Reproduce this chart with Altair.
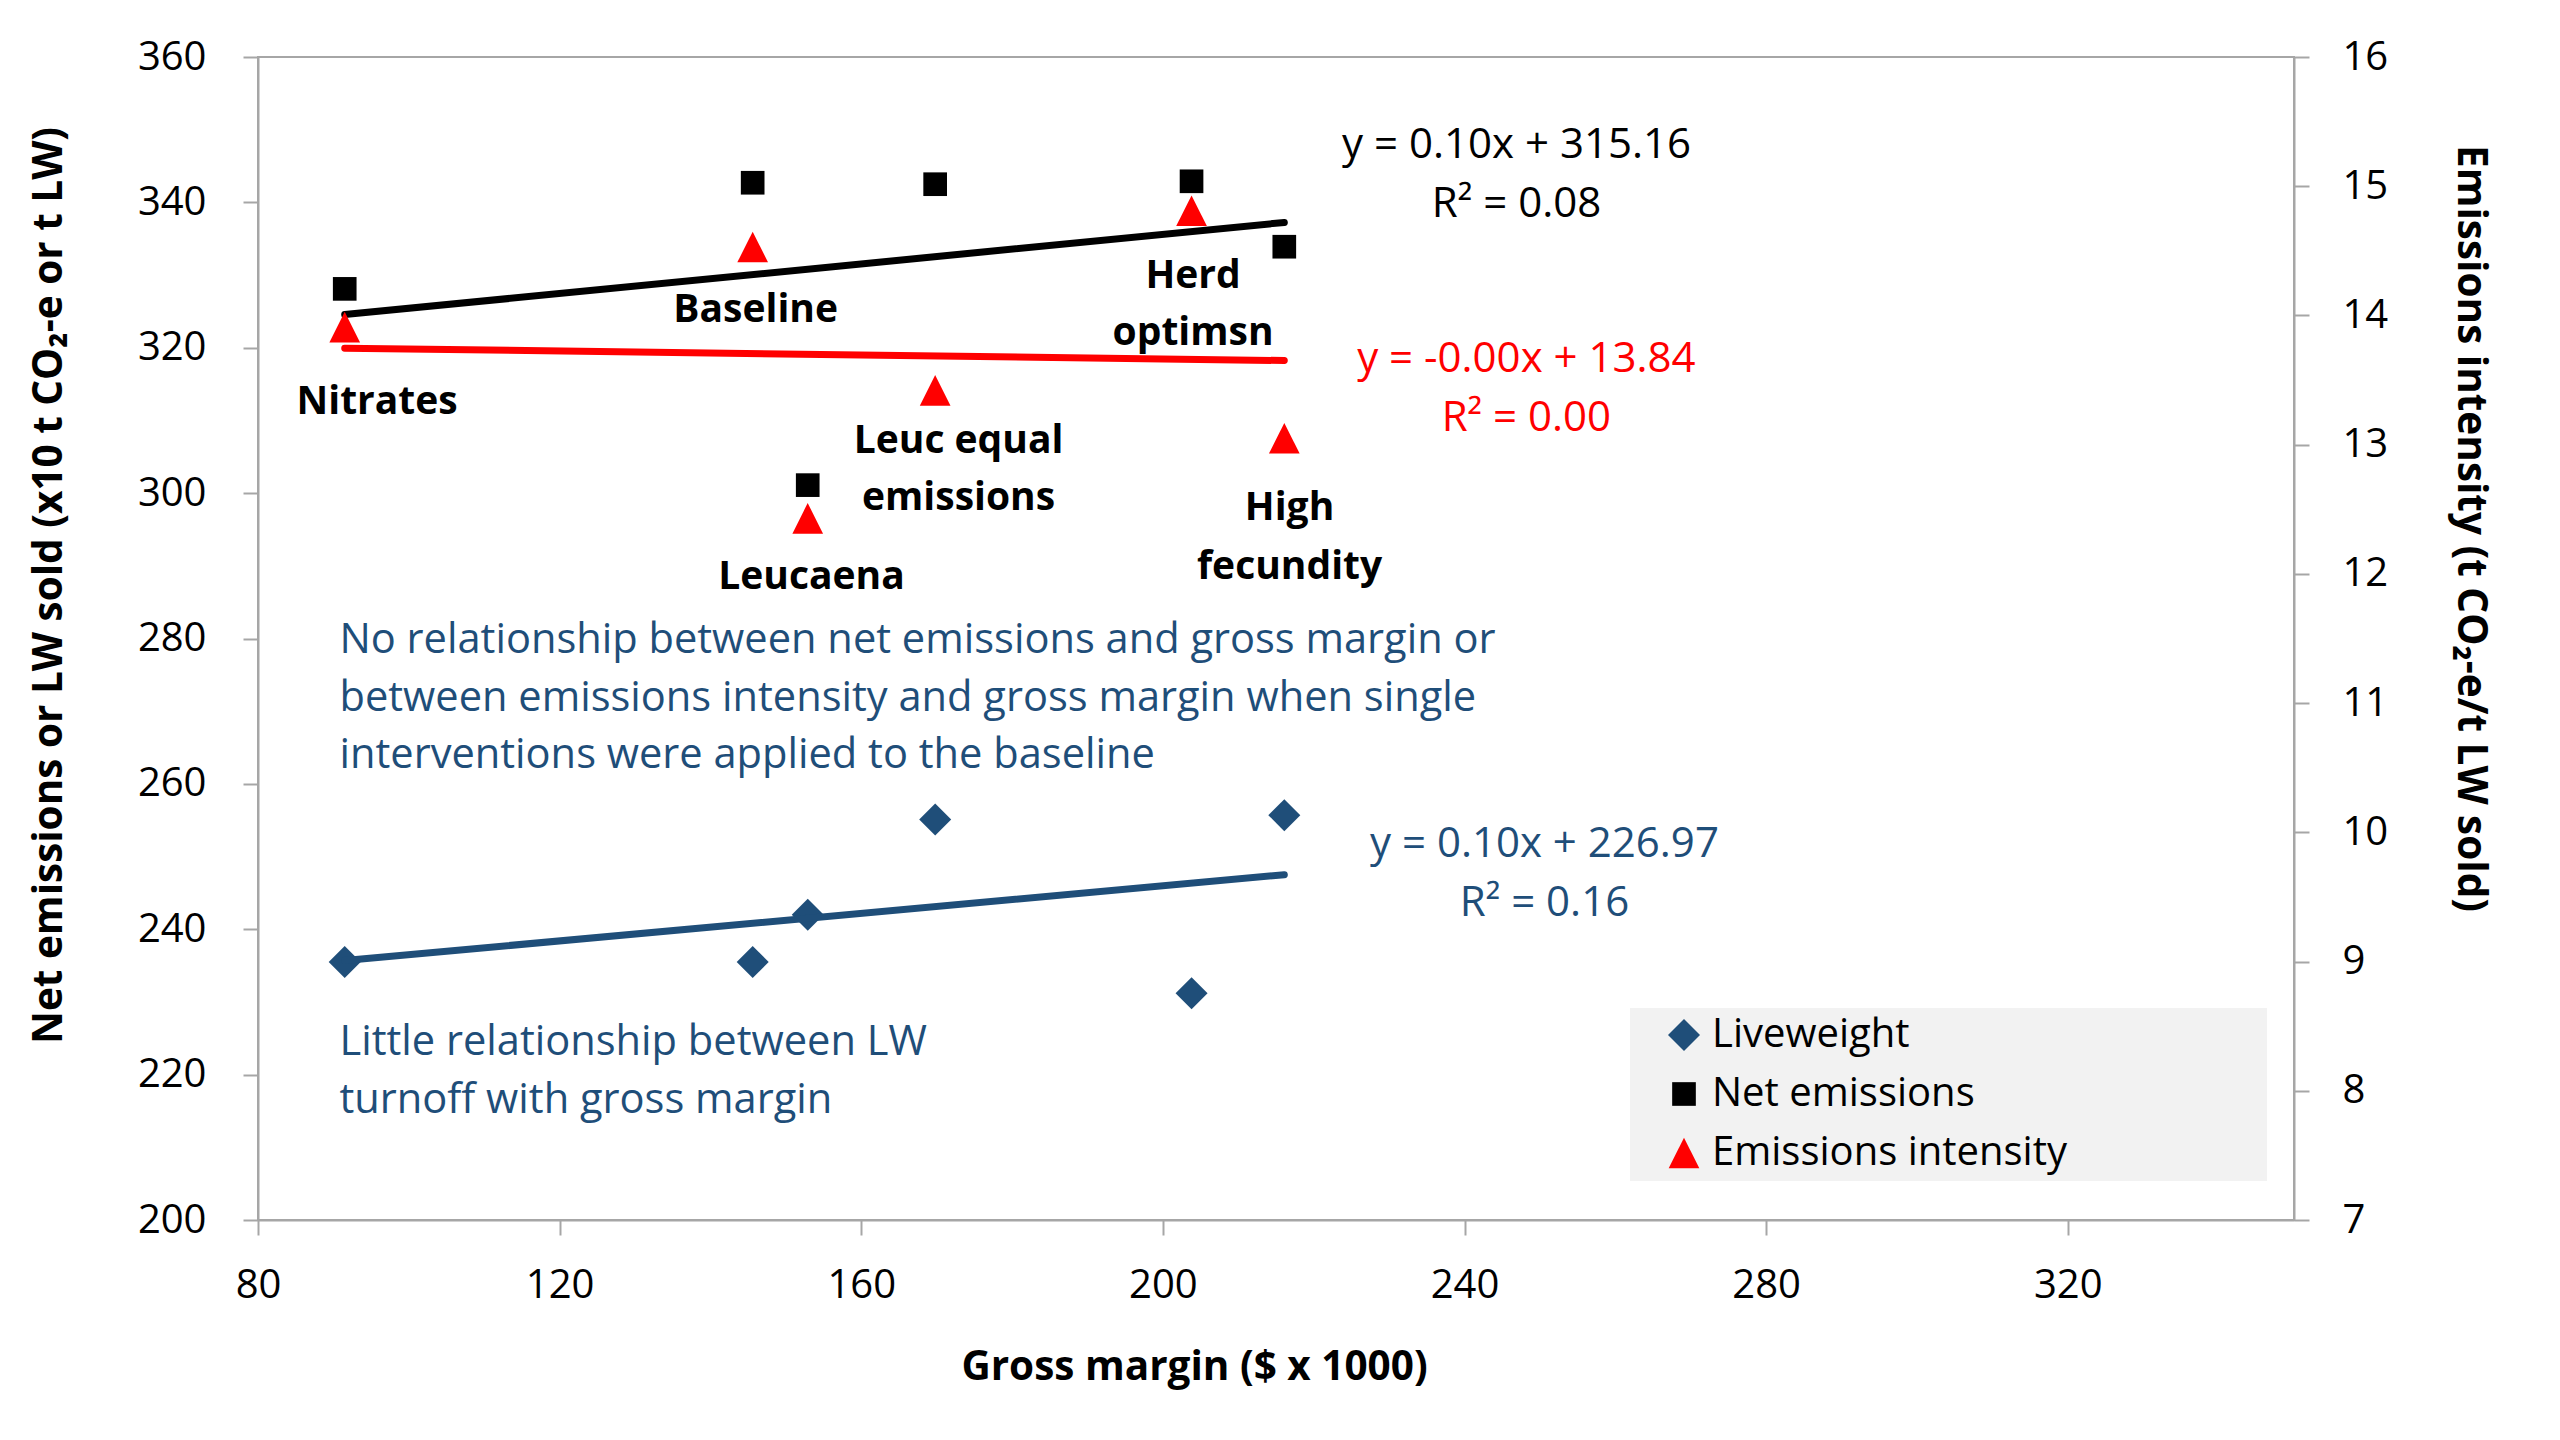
import altair as alt
import pandas as pd

# ---- data ----
scenarios = ["Nitrates", "Baseline", "Leucaena", "Leuc equal emissions", "Herd optimsn", "High fecundity"]
gross_margin = [91.5, 145.6, 152.9, 169.8, 203.8, 216.1]
liveweight = [235.5, 235.5, 242.0, 255.1, 231.2, 255.7]
net_emissions = [328.1, 342.7, 301.1, 342.5, 342.9, 333.9]
emissions_intensity = [13.91, 14.53, 12.43, 13.42, 14.81, 13.05]

series_names = ["Liveweight", "Net emissions", "Emissions intensity"]
series_colors = ["#1F4E79", "#000000", "#FF0000"]
series_shapes = ["diamond", "square", "M0,-1L1,1L-1,1Z"]
series_sizes = [1024, 560, 940]

x_ticks = [80, 120, 160, 200, 240, 280, 320]
left_ticks = [200, 220, 240, 260, 280, 300, 320, 340, 360]
right_ticks = [7, 8, 9, 10, 11, 12, 13, 14, 15, 16]

# scenario labels (one row per text line), in data units of the left axis
label_text = ["Nitrates", "Baseline", "Herd", "optimsn", "Leuc equal", "emissions",
              "Leucaena", "High", "fecundity"]
label_x = [95.8, 146.0, 204.0, 204.0, 172.9, 172.9, 153.4, 216.8, 216.8]
label_y = [312.6, 325.2, 329.9, 322.0, 307.2, 299.3, 288.5, 298.0, 289.9]

# trendline equations
eq_text = ["y = 0.10x + 315.16", "R² = 0.08", "y = -0.00x + 13.84", "R² = 0.00",
           "y = 0.10x + 226.97", "R² = 0.16"]
eq_x = [246.9, 246.9, 248.2, 248.2, 250.6, 250.6]
eq_y = [347.9, 339.8, 318.4, 310.3, 251.7, 243.6]
eq_color = ["#000000", "#000000", "#FF0000", "#FF0000", "#1F4E79", "#1F4E79"]

# commentary notes
note_text = ["No relationship between net emissions and gross margin or",
             "between emissions intensity and gross margin when single",
             "interventions were applied to the baseline",
             "Little relationship between LW",
             "turnoff with gross margin"]
note_x = [90.8, 90.8, 90.8, 90.8, 90.8]
note_y = [279.6, 271.7, 263.8, 224.3, 216.4]

# ---- tables ----
n = len(gross_margin)
df_left = pd.DataFrame({
    "gm": gross_margin * 2,
    "value": liveweight + net_emissions,
    "series": ["Liveweight"] * n + ["Net emissions"] * n,
})
df_right = pd.DataFrame({
    "gm": gross_margin,
    "value": emissions_intensity,
    "series": ["Emissions intensity"] * n,
})
df_lw = df_left[df_left.series == "Liveweight"]
df_ne = df_left[df_left.series == "Net emissions"]
df_labels = pd.DataFrame({"gm": label_x, "value": label_y, "txt": label_text})
df_eq = pd.DataFrame({"gm": eq_x, "value": eq_y, "txt": eq_text, "col": eq_color})
df_notes = pd.DataFrame({"gm": note_x, "value": note_y, "txt": note_text})

FONT = "Open Sans"
FS = 40
AX = "#a6a6a6"

x_enc = alt.X("gm:Q",
              scale=alt.Scale(domain=[80, 350], nice=False, zero=False),
              axis=alt.Axis(values=x_ticks, title="Gross margin ($ x 1000)",
                            tickSize=15, labelPadding=30, labelFlush=False,
                            titleX=936, titleY=147, titleAlign="center",
                            titleBaseline="middle"))
yl_enc = alt.Y("value:Q",
               scale=alt.Scale(domain=[200, 360], nice=False, zero=False),
               axis=alt.Axis(values=left_ticks, orient="left",
                             title="Net emissions or LW sold (x10 t CO₂-e or t LW)",
                             tickSize=15, labelPadding=37, labelFlush=False,
                             titleX=-209, titleY=528, titleAngle=-90,
                             titleAlign="center", titleBaseline="middle"))
yr_enc = alt.Y("value:Q",
               scale=alt.Scale(domain=[7, 16], nice=False, zero=False),
               axis=alt.Axis(values=right_ticks, orient="right",
                             title="Emissions intensity (t CO₂-e/t  LW sold)",
                             tickSize=15, labelPadding=33, labelFlush=False,
                             titleX=175, titleY=471, titleAngle=90,
                             titleAlign="center", titleBaseline="middle"))

color_enc = alt.Color("series:N", title=None,
                      scale=alt.Scale(domain=series_names, range=series_colors))
shape_enc = alt.Shape("series:N", title=None,
                      scale=alt.Scale(domain=series_names, range=series_shapes))
size_enc = alt.Size("series:N", title=None,
                    scale=alt.Scale(type="ordinal", domain=series_names, range=series_sizes))

legend_bg = alt.Chart(pd.DataFrame({"a": [0]})).mark_rect(color="#f2f2f2").encode(
    x=alt.value(1372), x2=alt.value(2009), y=alt.value(951), y2=alt.value(1124))

pts_left = alt.Chart(df_left).mark_point(filled=True, opacity=1).encode(
    x=x_enc, y=yl_enc, color=color_enc, shape=shape_enc, size=size_enc)

trend_lw = alt.Chart(df_lw).transform_regression("gm", "value").mark_line(
    color="#1F4E79", strokeWidth=7, strokeCap="round").encode(x=x_enc, y=yl_enc)
trend_ne = alt.Chart(df_ne).transform_regression("gm", "value").mark_line(
    color="#000000", strokeWidth=7, strokeCap="round").encode(x=x_enc, y=yl_enc)

labels = alt.Chart(df_labels).mark_text(
    font=FONT, fontSize=39, fontWeight="bold", color="black",
    align="center", baseline="middle").encode(x=x_enc, y=yl_enc, text="txt:N")
eqs = alt.Chart(df_eq).mark_text(
    font=FONT, fontSize=42, align="center", baseline="middle").encode(
    x=x_enc, y=yl_enc, text="txt:N", color=alt.Color("col:N", scale=None))
notes = alt.Chart(df_notes).mark_text(
    font=FONT, fontSize=41.6, color="#1F4E79", align="left", baseline="middle").encode(
    x=x_enc, y=yl_enc, text="txt:N")

left_layer = alt.layer(legend_bg, pts_left, trend_lw, trend_ne, labels, eqs, notes)

pts_right = alt.Chart(df_right).mark_point(filled=True, opacity=1).encode(
    x=x_enc, y=yr_enc, color=color_enc, shape=shape_enc, size=size_enc)
trend_ei = alt.Chart(df_right).transform_regression("gm", "value").mark_line(
    color="#FF0000", strokeWidth=7, strokeCap="round").encode(x=x_enc, y=yr_enc)
right_layer = alt.layer(pts_right, trend_ei)

chart = alt.layer(left_layer, right_layer).resolve_scale(y="independent").properties(
    width=2036, height=1163,
    autosize=alt.AutoSizeParams(type="none"),
    padding={"left": 250, "top": 49, "right": 250, "bottom": 200},
    background="white",
).configure_view(
    stroke=AX, strokeWidth=2
).configure_axis(
    grid=False, domainColor=AX, domainWidth=2, tickColor=AX, tickWidth=2,
    labelFont=FONT, labelFontSize=FS, labelColor="black",
    titleFont=FONT, titleFontSize=40.5, titleFontWeight="bold", titleColor="black",
).configure_legend(
    orient="none", legendX=1406, legendY=958, padding=0,
    labelFont=FONT, labelFontSize=FS, labelColor="black", labelOffset=8,
    labelLimit=1000, rowPadding=19, symbolStrokeWidth=0,
)

chart.save("out.html", embed_options={"renderer": "svg", "actions": False})
